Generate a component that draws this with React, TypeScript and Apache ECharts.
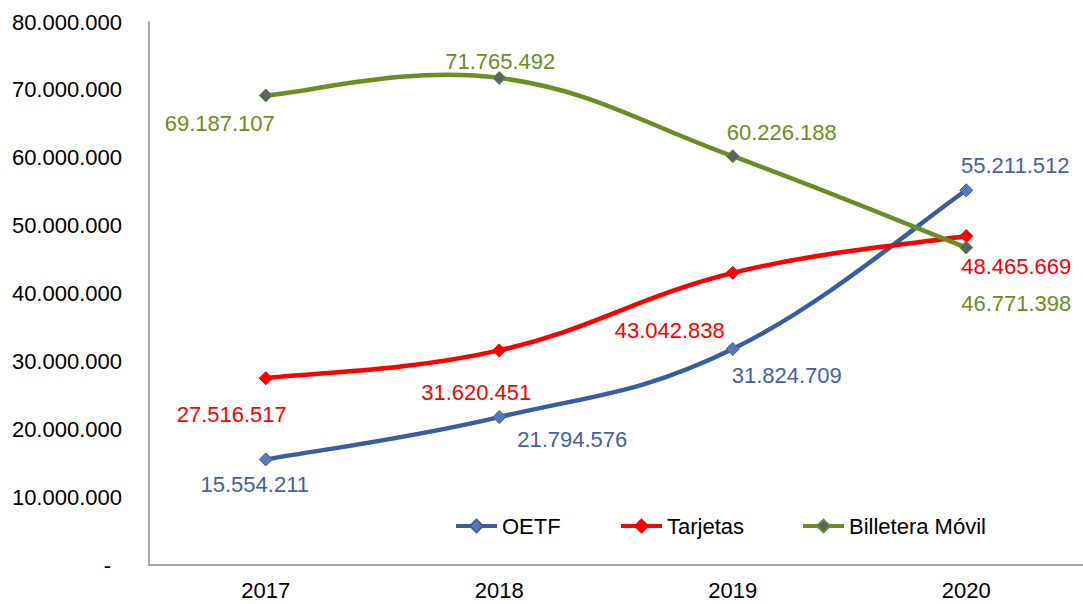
import React, { useEffect, useRef } from "react";
import * as echarts from "echarts";

const years = ["2017", "2018", "2019", "2020"];
const oetf = [15554211, 21794576, 31824709, 55211512];
const tarjetas = [27516517, 31620451, 43042838, 48465669];
const billetera = [69187107, 71765492, 60226188, 46771398];
const seriesNames = ["OETF", "Tarjetas", "Billetera Móvil"];

// label layout offsets in pixels (kept apart from the data)
const oetfOffsets = [[-11, 25], [73, 22], [54, 27], [49, -25]];
const tarjetasOffsets = [[-34, 36], [-23, 42], [-63, 58], [50, 30]];
const billeteraOffsets = [[-46, 28], [1, -16], [49, -24], [50, 56]];

const fmt = (v: number) =>
  Math.round(v).toString().replace(/\B(?=(\d{3})+(?!\d))/g, ".");

const FONT = "Liberation Sans, Arial, sans-serif";
const FS = 22;
const K = 0.2; // smoothing tension for the Excel-like spline

function curveSeries(values: number[], color: string, z: number) {
  return {
    type: "custom",
    z,
    silent: true,
    data: values.map((v, i) => [i, v]),
    encode: { x: 0, y: 1 },
    renderItem: (params: any, api: any) => {
      if (params.dataIndex !== 0) return null;
      const pts = values.map((v, i) => api.coord([i, v]));
      const n = pts.length;
      let d = `M${pts[0][0]},${pts[0][1]}`;
      for (let i = 0; i < n - 1; i++) {
        const p0 = pts[Math.max(i - 1, 0)];
        const p1 = pts[i];
        const p2 = pts[i + 1];
        const p3 = pts[Math.min(i + 2, n - 1)];
        const c1x = p1[0] + (p2[0] - p0[0]) * K;
        const c1y = p1[1] + (p2[1] - p0[1]) * K;
        const c2x = p2[0] - (p3[0] - p1[0]) * K;
        const c2y = p2[1] - (p3[1] - p1[1]) * K;
        d += ` C${c1x},${c1y} ${c2x},${c2y} ${p2[0]},${p2[1]}`;
      }
      return {
        type: "path",
        shape: { pathData: d },
        style: { fill: "none", stroke: color, lineWidth: 4.5, lineJoin: "round", lineCap: "round" },
      };
    },
  };
}

function pointSeries(
  name: string,
  values: number[],
  offsets: number[][],
  lineColor: string,
  symbolColor: string,
  labelColor: string,
  z: number
) {
  return {
    name,
    type: "line",
    z,
    symbol: "diamond",
    symbolSize: 13,
    showAllSymbol: true,
    lineStyle: { color: lineColor, width: 4, opacity: 0 },
    itemStyle: { color: symbolColor, borderColor: lineColor, borderWidth: 1 },
    data: values.map((v, i) => ({
      value: v,
      label: {
        show: true,
        position: "inside",
        offset: offsets[i],
        formatter: (p: any) => fmt(p.value),
        color: labelColor,
        fontSize: FS,
        fontFamily: FONT,
      },
    })),
    emphasis: { disabled: true },
  };
}

const legendBase = {
  top: 510,
  itemWidth: 41,
  itemHeight: 16,
  lineStyle: { width: 4, opacity: 1 },
  textStyle: { fontSize: FS, fontFamily: FONT, color: "#000" },
};

export default function App() {
  const ref = useRef<HTMLDivElement>(null);
  useEffect(() => {
    if (!ref.current) return;
    const chart = echarts.init(ref.current, undefined, { renderer: "svg" });
    chart.setOption({
      animation: false,
      backgroundColor: "#ffffff",
      grid: { left: 149, top: 22, right: -4, bottom: 39, containLabel: false },
      legend: [
        { ...legendBase, data: [seriesNames[0]], left: 449 },
        { ...legendBase, data: [seriesNames[1]], left: 614 },
        { ...legendBase, data: [seriesNames[2]], left: 796 },
      ],
      xAxis: {
        type: "category",
        data: years,
        boundaryGap: true,
        axisLine: { lineStyle: { color: "#8a8a8a", width: 1.5 } },
        axisTick: { show: false },
        axisLabel: { fontSize: FS, fontFamily: FONT, color: "#000", margin: 14 },
      },
      yAxis: {
        type: "value",
        min: 0,
        max: 80000000,
        interval: 10000000,
        axisLine: { show: true, lineStyle: { color: "#8a8a8a", width: 1.5 } },
        axisTick: { show: false },
        splitLine: { show: false },
        axisLabel: {
          fontSize: FS,
          fontFamily: FONT,
          color: "#000",
          margin: 27,
          formatter: (v: number) => (v === 0 ? "{dash|-}" : fmt(v)),
          rich: { dash: { fontSize: FS, fontFamily: FONT, color: "#000", padding: [0, 11, 0, 0] } },
        },
      },
      series: [
        curveSeries(oetf, "#3A5DA0", 1),
        pointSeries("OETF", oetf, oetfOffsets, "#3A5DA0", "#5B77B8", "#3F62A6", 2),
        curveSeries(tarjetas, "#FF0000", 3),
        pointSeries("Tarjetas", tarjetas, tarjetasOffsets, "#FF0000", "#FF0000", "#FF0000", 4),
        curveSeries(billetera, "#6B8E23", 5),
        pointSeries("Billetera Móvil", billetera, billeteraOffsets, "#6B8E23", "#59636A", "#6B8E23", 6),
      ],
    });
    return () => chart.dispose();
  }, []);
  return <div ref={ref} style={{ width: 1083, height: 604, position: "absolute", left: 0, top: 0 }} />;
}
